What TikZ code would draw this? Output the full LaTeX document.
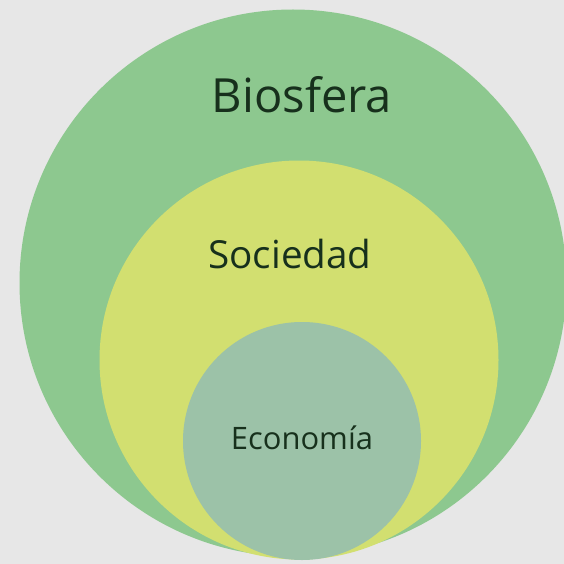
\documentclass[tikz,border=0pt]{standalone}
\usepackage{fontspec}
\setmainfont{Open Sans}
\definecolor{fondo}{HTML}{E7E7E7}
\definecolor{verde}{HTML}{8DC88F}
\definecolor{amarillo}{HTML}{D2DF70}
\definecolor{gris}{HTML}{9CC2A8}
\definecolor{letra}{HTML}{17301C}
\begin{document}
\begin{tikzpicture}[x = 0.05cm, y = -0.05cm,
		disco/.style = {circle, inner sep = 0pt, outer sep = 0pt},
		rotulo/.style = {text = letra, inner sep = 0pt}]
			\fill[fondo] (0,0) rectangle (564,564);
			\useasboundingbox (0,0) rectangle (564,564);
			\node[disco, fill = verde, minimum size = 547*0.05cm] (bio) at (293,283) {};
			\node[disco, fill = amarillo, minimum size = 399*0.05cm] (soc) at (299,360) {};
			\node[disco, fill = gris, minimum size = 238*0.05cm] (eco) at (302,441) {};
			\node[rotulo, font = \fontsize{67}{72}\selectfont] (tbio) at (302,95) {Biosfera};
			\node[rotulo, font = \fontsize{55}{60}\selectfont] (tsoc) at (290,254) {Sociedad};
			\node[rotulo, font = \fontsize{44}{50}\selectfont] (teco) at (302,438) {Economía};
		\end{tikzpicture}
\end{document}
